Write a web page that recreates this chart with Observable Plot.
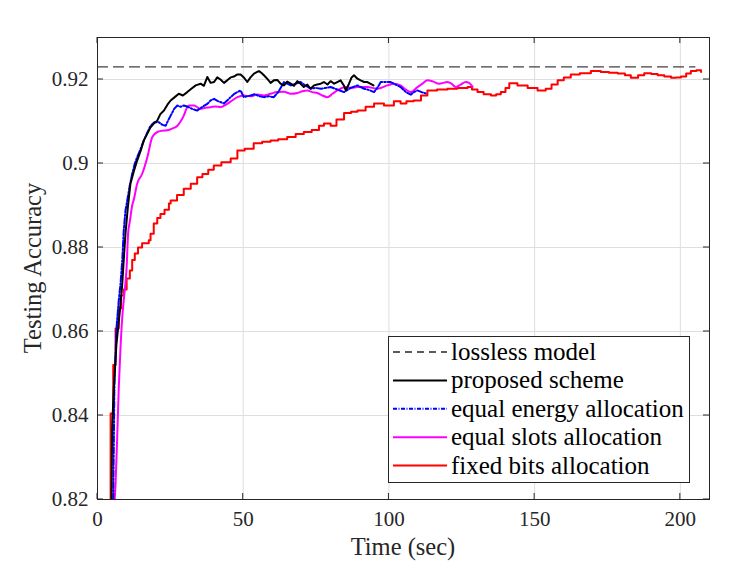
<!DOCTYPE html>
<html><head><meta charset="utf-8">
<script src="https://cdn.jsdelivr.net/npm/d3@7"></script>
<script src="https://cdn.jsdelivr.net/npm/@observablehq/plot@0.6"></script>
<style>body{margin:0;background:#fff}</style>
</head><body><div id="chart"></div>
<script>
const xTicks = [0, 50, 100, 150, 200];
const yTicks = [0.82, 0.84, 0.86, 0.88, 0.9, 0.92];
const yTickLabels = ["0.82", "0.84", "0.86", "0.88", "0.9", "0.92"];
const seriesNames = ["lossless model", "proposed scheme", "equal energy allocation", "equal slots allocation", "fixed bits allocation"];

const losslessT = [0, 205];
const losslessY = [0.923, 0.923];

const proposedT = [4.8,5.0,5.6,6.5,7.7,8.5,9.0,9.6,10.4,11.3,12.4,13.6,14.8,15.9,17.0,18.2,19.3,20.5,21.6,22.8,24.0,25.1,26.5,27.9,29.3,30.8,32.2,33.7,35.4,36.5,37.7,38.8,40.0,41.1,42.2,43.4,44.5,45.7,46.8,48.0,49.1,50.2,51.4,52.5,53.7,54.8,55.4,56.2,57.1,58.2,59.4,60.5,61.7,62.8,64.0,65.1,66.3,67.4,68.6,69.7,70.8,72.0,73.1,74.3,75.4,76.6,77.7,78.9,80.0,81.2,82.3,83.4,84.6,85.2,86.3,87.2,88.0,89.2,90.3,91.5,92.6,93.6,94.7];
const proposedY = [0.82,0.8364,0.8467,0.857,0.865,0.8714,0.877,0.8833,0.8895,0.8952,0.898,0.9007,0.903,0.9055,0.907,0.9086,0.9095,0.9102,0.9118,0.9126,0.914,0.915,0.9158,0.9166,0.9162,0.917,0.9178,0.9186,0.919,0.9185,0.9206,0.9192,0.9194,0.9205,0.92,0.9192,0.9198,0.9205,0.9207,0.9212,0.9212,0.9205,0.9194,0.9205,0.9214,0.9218,0.922,0.9216,0.921,0.9202,0.9192,0.9198,0.9199,0.919,0.9186,0.9195,0.919,0.9185,0.9196,0.919,0.9182,0.9188,0.9178,0.9186,0.9188,0.919,0.9194,0.9188,0.9196,0.919,0.9194,0.9198,0.9185,0.9174,0.919,0.9205,0.921,0.9202,0.9198,0.9194,0.9194,0.919,0.9186];

const energyT = [5.4,5.8,6.5,7.3,7.9,8.5,9.0,9.6,10.2,11.0,11.9,12.8,13.6,14.8,15.9,17.0,18.2,19.5,21.1,22.3,23.4,24.2,25.1,26.3,27.4,28.5,29.6,31.0,32.5,34.2,36.0,37.7,38.8,40.0,41.5,43.4,44.5,45.7,46.8,48.0,49.1,50.2,51.4,52.5,54.0,55.5,57.1,58.8,60.5,62.0,64.0,65.1,66.3,68.0,69.7,71.5,73.1,74.8,76.6,78.3,80.0,82.3,84.6,86.9,89.2,91.5,93.2,94.9,96.0,97.2,99.0,100.6,101.7,104.0,105.8,107.5,108.6,109.8,111.2,112.6];
const energyY = [0.82,0.8467,0.8607,0.8674,0.8714,0.877,0.884,0.8888,0.8912,0.8945,0.8975,0.9,0.9015,0.9035,0.9055,0.9072,0.909,0.9098,0.9098,0.9092,0.909,0.9102,0.9114,0.913,0.9138,0.9135,0.9138,0.9135,0.913,0.9126,0.9135,0.9142,0.915,0.9154,0.9148,0.9143,0.915,0.9158,0.9165,0.917,0.9174,0.9158,0.916,0.9162,0.9165,0.916,0.9158,0.916,0.9158,0.917,0.9194,0.919,0.9186,0.919,0.9194,0.9185,0.9178,0.918,0.9178,0.918,0.9182,0.9176,0.917,0.918,0.9186,0.9178,0.9175,0.917,0.918,0.9194,0.9194,0.9194,0.919,0.9182,0.917,0.9164,0.917,0.9174,0.917,0.9167];

const slotsT = [5.9,6.2,6.8,7.3,7.9,8.5,9.0,10.0,10.5,11.1,11.9,12.5,13.6,15.3,17.1,18.8,20.5,22.2,23.9,25.6,27.4,28.5,29.6,30.5,31.4,33.1,35.4,37.0,38.8,40.5,42.2,44.5,46.2,48.0,50.2,52.5,54.8,57.1,59.4,61.7,64.0,66.3,68.6,70.3,72.0,73.7,75.4,77.2,78.9,80.6,82.3,85.2,87.2,89.2,92.6,96.0,99.5,101.7,104.0,105.8,107.5,109.8,111.5,113.2,115.2,117.2,120.1,121.5,122.9,124.6,126.4,127.5,128.7];
const slotsY = [0.82,0.8238,0.8357,0.8467,0.8562,0.8634,0.8674,0.8753,0.8833,0.8862,0.89,0.8915,0.8952,0.8975,0.9015,0.9063,0.9075,0.9078,0.9079,0.9083,0.909,0.91,0.9114,0.913,0.9138,0.9138,0.913,0.9133,0.9134,0.9136,0.9134,0.9142,0.915,0.9158,0.9162,0.916,0.9164,0.9162,0.9166,0.917,0.9171,0.9166,0.9168,0.9172,0.9174,0.917,0.9168,0.9162,0.9158,0.9166,0.9174,0.9182,0.918,0.9182,0.9182,0.9178,0.9186,0.919,0.9186,0.9176,0.917,0.9182,0.919,0.9198,0.9195,0.919,0.9194,0.919,0.9182,0.9188,0.9194,0.9192,0.9183];

const fixedT = [4.5,4.5,5.4,6.2,7.3,8.1,9.0,10.0,11.1,11.9,12.8,13.9,15.3,17.6,18.2,19.3,20.5,21.6,23.0,24.5,25.1,27.3,29.6,32.0,34.2,36.0,38.0,39.9,42.5,45.7,48.0,50.5,53.6,56.5,59.4,62.0,65.1,68.0,70.8,73.5,76.0,77.7,80.0,82.0,84.6,87.0,89.2,92.0,94.9,98.3,101.7,104.0,106.0,108.5,111.0,113.2,116.5,120.1,123.5,127.0,128.5,130.4,132.5,135.0,136.8,138.4,140.0,141.3,144.1,147.6,151.0,153.8,155.8,157.9,160.0,162.4,165.5,169.3,172.7,175.5,178.5,181.0,183.0,185.5,187.6,190.0,192.2,194.5,196.8,198.5,200.2,202.0,203.6,205.5,207.1];
const fixedY = [0.82,0.8405,0.852,0.8607,0.8655,0.8686,0.87,0.8726,0.8745,0.877,0.8786,0.88,0.881,0.8817,0.8833,0.8857,0.887,0.888,0.889,0.8905,0.8912,0.8925,0.894,0.8952,0.8967,0.8975,0.8985,0.8995,0.9003,0.9012,0.9031,0.9035,0.9048,0.9052,0.9055,0.9058,0.9063,0.907,0.9075,0.908,0.909,0.9095,0.909,0.9105,0.912,0.9123,0.9126,0.9135,0.9143,0.9138,0.9148,0.9143,0.9148,0.915,0.9162,0.9174,0.9176,0.9178,0.918,0.9182,0.9176,0.917,0.9165,0.9162,0.9165,0.917,0.918,0.9191,0.9186,0.918,0.9174,0.9178,0.9188,0.9198,0.9205,0.9212,0.9215,0.922,0.9218,0.9216,0.9214,0.921,0.9204,0.921,0.9215,0.9213,0.921,0.9207,0.9204,0.9205,0.9207,0.9214,0.922,0.9222,0.9218];

const toRows = (T, Y) => T.map((t, i) => ({t, v: Y[i]}));
const font = "'Liberation Serif', 'DejaVu Serif', serif";
const axisColor = "#262626";

const styles = [
  {stroke: "#404040", dash: "10,6", width: 1.3},
  {stroke: "#000000", dash: null, width: 2},
  {stroke: "#0000ff", dash: "6,2,1.5,2", width: 2},
  {stroke: "#ff00ff", dash: null, width: 2},
  {stroke: "#ff0000", dash: null, width: 2}
];

const plot = Plot.plot({
  width: 747, height: 561,
  marginLeft: 97, marginRight: 38, marginTop: 37, marginBottom: 62,
  style: {fontFamily: font, fontSize: "21px", color: axisColor, background: "#fff", overflow: "visible"},
  x: {domain: [0, 210]},
  y: {domain: [0.82, 0.93]},
  marks: [
    Plot.gridX(xTicks, {stroke: "#dedede", strokeOpacity: 1}),
    Plot.gridY(yTicks, {stroke: "#dedede", strokeOpacity: 1}),
    Plot.axisX(xTicks, {tickSize: 0, tickPadding: 12, label: null, fontSize: 21}),
    Plot.axisY(yTicks, {tickSize: 0, tickPadding: 9, label: null, fontSize: 21, tickFormat: (d, i) => yTickLabels[i]}),
    Plot.line(toRows(losslessT, losslessY), {x: "t", y: "v", stroke: styles[0].stroke, strokeWidth: styles[0].width, strokeDasharray: styles[0].dash}),
    Plot.line(toRows(fixedT, fixedY), {x: "t", y: "v", stroke: styles[4].stroke, strokeWidth: 2, curve: "step-after", clip: true}),
    Plot.line(toRows(slotsT, slotsY), {x: "t", y: "v", stroke: styles[3].stroke, strokeWidth: 2, curve: "monotone-x", clip: true}),
    Plot.line(toRows(energyT, energyY), {x: "t", y: "v", stroke: styles[2].stroke, strokeWidth: 2, strokeDasharray: styles[2].dash, clip: true}),
    Plot.line(toRows(proposedT, proposedY), {x: "t", y: "v", stroke: styles[1].stroke, strokeWidth: 2, clip: true}),
    Plot.frame({stroke: axisColor, strokeWidth: 1})
  ]
});

document.getElementById("chart").appendChild(plot);
const svg = d3.select(plot);
const sx = plot.scale("x"), sy = plot.scale("y");
const x0 = sx.range[0], x1 = sx.range[1];
const yb = sy.range[0], yt = sy.range[1];
const tl = 6;
const g = svg.append("g").attr("stroke", axisColor).attr("stroke-width", 1);
xTicks.forEach(v => {
  const px = sx.apply(v);
  g.append("line").attr("x1", px).attr("x2", px).attr("y1", yb).attr("y2", yb - tl);
  g.append("line").attr("x1", px).attr("x2", px).attr("y1", yt).attr("y2", yt + tl);
});
yTicks.forEach(v => {
  const py = sy.apply(v);
  g.append("line").attr("x1", x0).attr("x2", x0 + tl).attr("y1", py).attr("y2", py);
  g.append("line").attr("x1", x1).attr("x2", x1 - tl).attr("y1", py).attr("y2", py);
});

// axis titles
svg.append("text").attr("x", (x0 + x1) / 2).attr("y", 555).attr("text-anchor", "middle")
  .attr("font-family", font).attr("font-size", 24.5).attr("fill", axisColor).text("Time (sec)");
svg.append("text").attr("transform", `translate(41,${(yb + yt) / 2}) rotate(-90)`).attr("text-anchor", "middle")
  .attr("font-family", font).attr("font-size", 24.5).attr("fill", axisColor).text("Testing Accuracy");

// legend
const lg = svg.append("g");
lg.append("rect").attr("x", 388.5).attr("y", 336.5).attr("width", 301).attr("height", 146)
  .attr("fill", "#fff").attr("stroke", axisColor).attr("stroke-width", 1);
seriesNames.forEach((name, i) => {
  const cy = 352 + i * 28.4;
  lg.append("line").attr("x1", 393).attr("x2", 447).attr("y1", cy).attr("y2", cy)
    .attr("stroke", i === 0 ? "#262626" : styles[i].stroke).attr("stroke-width", i === 0 ? 1.3 : 2)
    .attr("stroke-dasharray", i === 0 ? "7,5" : (i === 2 ? "4,1.5,1,1.5" : null));
  lg.append("text").attr("x", 451).attr("y", cy).attr("dy", "0.32em").attr("text-anchor", "start")
    .attr("font-family", font).attr("font-size", 25).attr("fill", "#000").text(name);
});
</script>
</body></html>
